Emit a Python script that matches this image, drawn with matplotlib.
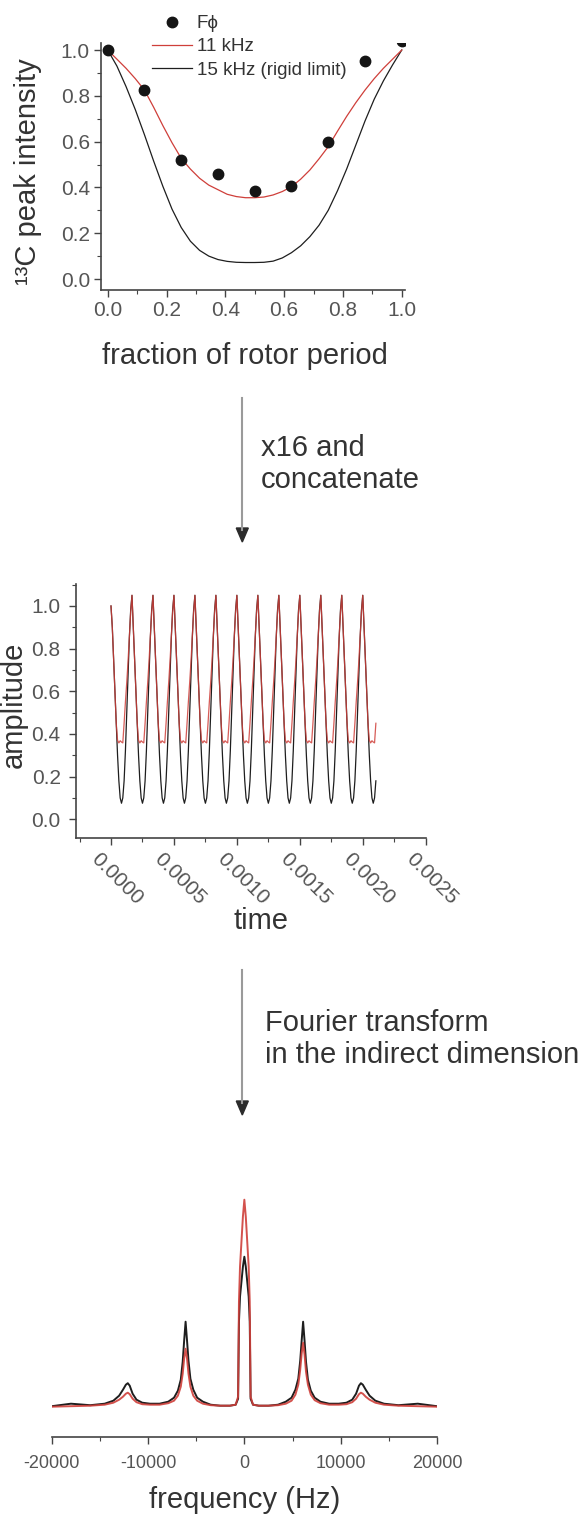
import numpy as np
import matplotlib
matplotlib.use("Agg")
import matplotlib.pyplot as plt
import matplotlib.transforms as mtransforms
from matplotlib.lines import Line2D
from matplotlib.patches import Polygon
from matplotlib.ticker import MultipleLocator, FormatStrFormatter

plt.rcParams['font.family'] = ['Liberation Sans', 'DejaVu Sans']
plt.rcParams['axes.unicode_minus'] = False

W, H = 587, 1533

# --- top panel: peak intensity over one rotor period ---
frac_pts = [0.0, 0.125, 0.25, 0.375, 0.5, 0.625, 0.75, 0.875, 1.0]
f_phi = [1.0, 0.825, 0.52, 0.46, 0.385, 0.405, 0.60, 0.952, 1.04]

frac_curve = [0.0, 0.03125, 0.0625, 0.09375, 0.125, 0.15625, 0.1875, 0.21875,
              0.25, 0.28125, 0.3125, 0.34375, 0.375, 0.40625, 0.4375, 0.46875,
              0.5, 0.53125, 0.5625, 0.59375, 0.625, 0.65625, 0.6875, 0.71875,
              0.75, 0.78125, 0.8125, 0.84375, 0.875, 0.90625, 0.9375, 0.96875, 1.0]
curve_11khz = [1.0, 0.96, 0.92, 0.875, 0.825, 0.75, 0.67, 0.595, 0.527, 0.48,
               0.44, 0.41, 0.39, 0.37, 0.36, 0.355, 0.355, 0.358, 0.367, 0.382,
               0.403, 0.436, 0.476, 0.525, 0.578, 0.645, 0.71, 0.77, 0.825,
               0.875, 0.92, 0.96, 1.0]
curve_15khz = [1.0, 0.93, 0.84, 0.74, 0.63, 0.515, 0.405, 0.305, 0.225, 0.165,
               0.125, 0.10, 0.085, 0.077, 0.073, 0.072, 0.072, 0.073, 0.078,
               0.092, 0.115, 0.145, 0.185, 0.235, 0.30, 0.385, 0.48, 0.585,
               0.69, 0.785, 0.865, 0.935, 1.0]

# --- middle panel: one rotor period (16 samples), repeated ---
rotor_period = 1 / 6000.0
amp_start = 1.0
period_11khz = [1.05, 0.90, 0.75, 0.59, 0.45, 0.37, 0.358, 0.368, 0.362, 0.358,
                0.45, 0.55, 0.64, 0.74, 0.86, 0.97]
period_15khz = [1.05, 0.90, 0.75, 0.59, 0.44, 0.30, 0.18, 0.10, 0.075, 0.10,
                0.18, 0.32, 0.50, 0.68, 0.85, 0.98]
n_samples = 203

# --- bottom panel: spectrum ---
freq_hz = [-20000, -18000, -16000, -14500, -13600, -13000, -12600, -12300, -12100,
           -11900, -11600, -11200, -10600, -9800, -8800, -7900, -7300, -6900,
           -6600, -6400, -6250, -6100, -5950, -5800, -5600, -5300, -4900, -4300,
           -3500, -2500, -1500, -900, -650, -560, -450, -300, -150, 0,
           150, 300, 450, 560, 650, 900, 1500, 2500, 3500, 4300, 4900, 5300,
           5600, 5800, 5950, 6100, 6250, 6400, 6600, 6900, 7300, 7900, 8800,
           9800, 10600, 11200, 11600, 11900, 12100, 12300, 12600, 13000, 13600,
           14500, 16000, 18000, 20000]
spec_15khz = [0.5, 3, 1.5, 3, 6, 11, 17, 22, 23.5,
              21, 13, 7, 4, 3, 3, 5, 9, 16,
              27, 45, 66, 85, 66, 46, 28, 17, 9, 5,
              2, 1, 1, 2, 8, 85, 110, 125, 140, 150,
              140, 125, 110, 85, 8, 2, 1, 1, 2, 5, 9, 17,
              28, 46, 66, 85, 66, 45, 27, 16, 9, 5, 3,
              3, 4, 7, 13, 21, 23.5, 22, 17, 11, 6,
              3, 1.5, 3, 0.5]
spec_11khz = [0, 0.5, 1, 2, 4, 7, 10, 13, 14,
              12.5, 8, 4.5, 2.5, 2, 2, 3.5, 6, 11,
              20, 33, 48, 58, 48, 33, 20, 11, 6, 3,
              1.5, 1, 1, 2, 10, 105, 140, 165, 190, 207,
              190, 165, 140, 105, 10, 2, 1, 1, 1.5, 3, 6, 12,
              22, 37, 53, 64, 52, 35, 22, 12, 6.5, 3.5, 2,
              2, 2.5, 4.5, 8, 12.5, 14, 13, 10, 7, 4,
              2, 1, 0.5, 0]

RED = '#cf3f3a'
BLACK = '#1e1e1e'
TXT = '#333333'
TICK = '#555555'


def rect(l, t, r, b):
    return [l / W, 1 - b / H, (r - l) / W, (b - t) / H]


def fx(x):
    return x / W


def fy(y):
    return 1 - y / H


def style_axes(ax, size):
    for s in ['top', 'right']:
        ax.spines[s].set_visible(False)
    for s in ['left', 'bottom']:
        ax.spines[s].set_color('#444444')
        ax.spines[s].set_linewidth(1.2)
    ax.tick_params(which='major', length=5, width=1, color='#444444',
                   labelsize=size, labelcolor=TICK, pad=3)
    ax.tick_params(which='minor', length=3, width=0.8, color='#444444')


fig = plt.figure(figsize=(W / 100, H / 100), dpi=100)

# top panel
ax1 = fig.add_axes(rect(101, 43, 405, 290))
ax1.plot(frac_curve, curve_15khz, color=BLACK, lw=0.9, label='15 kHz (rigid limit)')
ax1.plot(frac_curve, curve_11khz, color=RED, lw=0.9, label='11 kHz')
ax1.plot(frac_pts, f_phi, 'o', color='#151515', ms=7.5, ls='none', label='F\u03d5')
ax1.set_xlim(-0.0228, 1.011)
ax1.set_ylim(-0.048, 1.0306)
ax1.xaxis.set_major_locator(MultipleLocator(0.2))
ax1.xaxis.set_minor_locator(MultipleLocator(0.1))
ax1.yaxis.set_major_locator(MultipleLocator(0.2))
ax1.yaxis.set_minor_locator(MultipleLocator(0.1))
ax1.xaxis.set_major_formatter(FormatStrFormatter('%.1f'))
ax1.yaxis.set_major_formatter(FormatStrFormatter('%.1f'))
style_axes(ax1, 15)

h, l = ax1.get_legend_handles_labels()
order = [2, 1, 0]
fig.legend([h[i] for i in order], [l[i] for i in order], loc='upper left',
           bbox_to_anchor=(fx(151.7), fy(15)), frameon=False, borderpad=0,
           borderaxespad=0, fontsize=13.5, handlelength=2.13,
           handletextpad=0.27, labelspacing=0.33, labelcolor=TXT)

fig.text(fx(28), fy(172), '\u00b9\u00b3C peak intensity', rotation=90,
         ha='center', va='center', fontsize=21, color=TXT)
fig.text(fx(245), fy(356), 'fraction of rotor period', ha='center',
         va='center', fontsize=21, color=TXT)

# arrow + text 1
fig.add_artist(Line2D([fx(242.3), fx(242.3)], [fy(398), fy(530)],
                      transform=fig.transFigure, color='#9a9a9a', lw=1.5))
fig.add_artist(Polygon([[fx(236.3), fy(528)], [fx(248.3), fy(528)], [fx(242.3), fy(542)]],
                       closed=True, transform=fig.transFigure, color='#2b2b2b'))
fig.text(fx(261), fy(464), 'x16 and\nconcatenate', ha='left', va='center',
         fontsize=21, color=TXT, linespacing=1.2)

# middle panel
amp_11 = np.tile(period_11khz, 13)[:n_samples]
amp_15 = np.tile(period_15khz, 13)[:n_samples]
amp_11[0] = amp_start
amp_15[0] = amp_start
t = np.arange(n_samples) * rotor_period / len(period_11khz)

ax2 = fig.add_axes(rect(76, 584, 425.7, 838))
ax2.plot(t, amp_15, color=BLACK, lw=0.9)
ax2.plot(t, amp_11, color=RED, lw=0.9, alpha=0.85)
ax2.set_xlim(-0.000278, 0.0025)
ax2.set_ylim(-0.088, 1.103)
ax2.set_xticks(np.arange(0, 0.00251, 0.0005))
ax2.xaxis.set_minor_locator(MultipleLocator(0.00025))
ax2.yaxis.set_major_locator(MultipleLocator(0.2))
ax2.yaxis.set_minor_locator(MultipleLocator(0.1))
ax2.yaxis.set_major_formatter(FormatStrFormatter('%.1f'))
ax2.xaxis.set_major_formatter(FormatStrFormatter('%.4f'))
style_axes(ax2, 15)
ax2.tick_params(axis='y', pad=6)
shift = mtransforms.ScaledTranslation(-10 / 100, 0, fig.dpi_scale_trans)
for lbl in ax2.get_xticklabels():
    lbl.set_rotation(-45)
    lbl.set_ha('left')
    lbl.set_va('top')
    lbl.set_rotation_mode('anchor')
    lbl.set_transform(lbl.get_transform() + shift)

fig.text(fx(14), fy(705), 'amplitude', rotation=90, ha='center', va='center',
         fontsize=21, color=TXT)
fig.text(fx(261), fy(921), 'time', ha='center', va='center', fontsize=21,
         color=TXT)

# arrow + text 2
fig.add_artist(Line2D([fx(242.3), fx(242.3)], [fy(970), fy(1103)],
                      transform=fig.transFigure, color='#9a9a9a', lw=1.5))
fig.add_artist(Polygon([[fx(236.3), fy(1101)], [fx(248.3), fy(1101)], [fx(242.3), fy(1115)]],
                       closed=True, transform=fig.transFigure, color='#2b2b2b'))
fig.text(fx(265), fy(1039), 'Fourier transform\nin the indirect dimension',
         ha='left', va='center', fontsize=21, color=TXT, linespacing=1.2)

# bottom panel
ax3 = fig.add_axes(rect(51.7, 1180, 437, 1436.7))
ax3.plot(freq_hz, spec_15khz, color=BLACK, lw=1.4)
ax3.plot(freq_hz, spec_11khz, color=RED, lw=1.4, alpha=0.9)
ax3.set_xlim(-20000, 20000)
ax3.set_ylim(-30, 226.7)
ax3.set_xticks([-20000, -10000, 0, 10000, 20000])
ax3.xaxis.set_minor_locator(MultipleLocator(5000))
ax3.set_yticks([])
style_axes(ax3, 13)
ax3.tick_params(axis='x', pad=8)
ax3.spines['left'].set_visible(False)

fig.text(fx(245), fy(1500), 'frequency (Hz)', ha='center', va='center',
         fontsize=21, color=TXT)

fig.savefig('out.png', dpi=100, facecolor='white')
